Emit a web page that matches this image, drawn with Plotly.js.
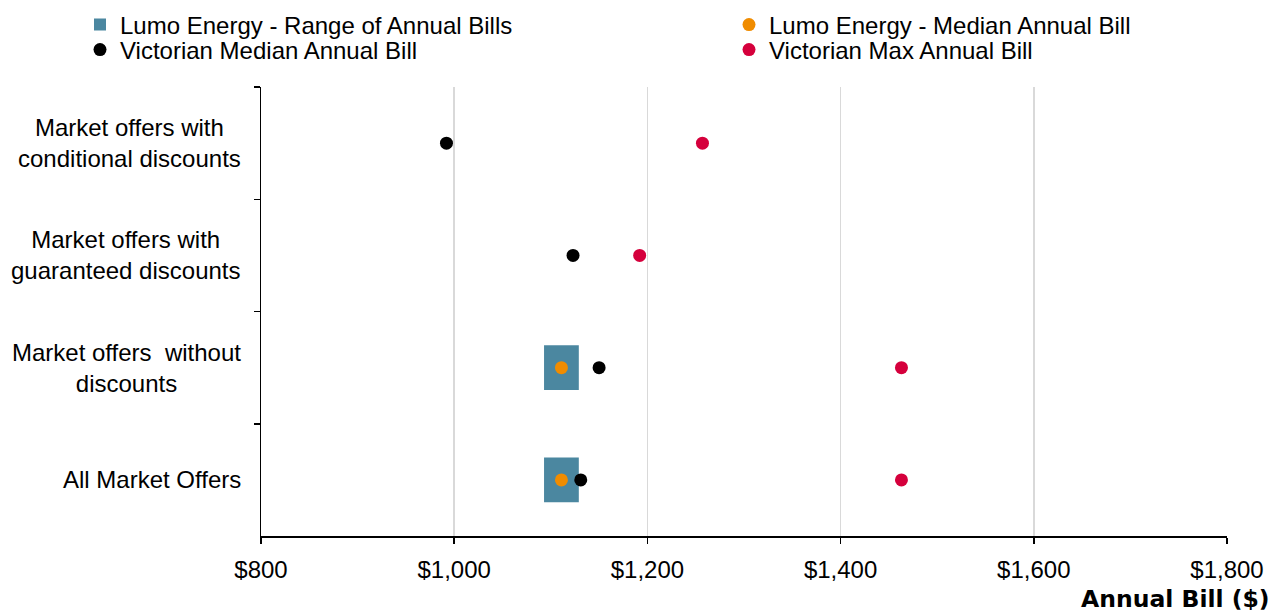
<!DOCTYPE html>
<html><head><meta charset="utf-8">
<script src="https://cdn.plot.ly/plotly-3.0.1.min.js"></script>
<style>html,body{margin:0;padding:0;background:#fff}#chart{width:1284px;height:612px}</style>
</head><body><div id="chart"></div>
<script>
const categories = ["Market offers with<br>conditional discounts", "Market offers with<br>guaranteed discounts", "Market offers  without<br>discounts", "All Market Offers"];
const seriesNames = ["Lumo Energy - Range of Annual Bills", "Lumo Energy - Median Annual Bill", "Victorian Median Annual Bill", "Victorian Max Annual Bill"];
const lumoLow = [null, null, 1093, 1093];
const lumoHigh = [null, null, 1129, 1129];
const lumoMedian = [null, null, 1111, 1111];
const vicMedian = [992, 1123, 1150, 1131];
const vicMax = [1257, 1192, 1463, 1463];
const xTickVals = [800, 1000, 1200, 1400, 1600, 1800];
const xTickLabels = ["$800", "$1,000", "$1,200", "$1,400", "$1,600", "$1,800"];
const xTitle = "Annual Bill ($)";

const FONT = "Liberation Sans, Arial, sans-serif";
const FS = 24;
const W = 1284, H = 612;
const M = {l: 261, r: 57, t: 87, b: 76};
const PW = W - M.l - M.r, PH = H - M.t - M.b;
const px2x = p => (p - M.l) / PW;
const py2y = p => (H - M.b - p) / PH;

const traces = [
  {type: 'bar', orientation: 'h', y: categories,
   x: lumoHigh.map((h, i) => (h == null || lumoLow[i] == null) ? null : h - lumoLow[i]),
   base: lumoLow, width: 0.4, name: seriesNames[0], legend: 'legend',
   marker: {color: '#4B87A0', line: {width: 0}}, hoverinfo: 'skip'},
  {type: 'scatter', mode: 'markers', y: categories, x: lumoMedian, name: seriesNames[1], legend: 'legend2',
   marker: {color: '#F08C00', size: 13}, hoverinfo: 'skip'},
  {type: 'scatter', mode: 'markers', y: categories, x: vicMedian, name: seriesNames[2], legend: 'legend3',
   marker: {color: '#000000', size: 13}, hoverinfo: 'skip'},
  {type: 'scatter', mode: 'markers', y: categories, x: vicMax, name: seriesNames[3], legend: 'legend4',
   marker: {color: '#D5003C', size: 13}, hoverinfo: 'skip'}
];

function leg(left, cy) {
  return {x: px2x(left), xanchor: 'left', y: py2y(cy), yanchor: 'middle', xref: 'paper', yref: 'paper',
          font: {family: FONT, size: FS, color: '#000'}, bgcolor: 'rgba(0,0,0,0)', borderwidth: 0};
}

const annotations = categories.map(c => ({
  text: c, x: 0, xref: 'paper', xanchor: 'right', xshift: -18, y: c, yref: 'y', yanchor: 'middle',
  align: 'center', showarrow: false, font: {family: FONT, size: FS, color: '#000'}
}));
annotations.push({text: xTitle, x: 1, xref: 'paper', xanchor: 'right', xshift: 45,
  y: 0, yref: 'paper', yanchor: 'middle', yshift: -63, showarrow: false,
  font: {family: 'DejaVu Sans, Verdana, sans-serif', size: 23.5, color: '#000', weight: 'bold'}});

const layout = {
  width: W, height: H, margin: Object.assign({autoexpand: false}, M),
  paper_bgcolor: '#fff', plot_bgcolor: '#fff', showlegend: true,
  legend: leg(80, 25), legend2: leg(729, 25), legend3: leg(80, 50), legend4: leg(729, 50),
  xaxis: {range: [800, 1800], tickmode: 'array', tickvals: xTickVals, ticktext: xTickLabels,
    showgrid: true, gridcolor: '#d9d9d9', gridwidth: 1.5, zeroline: false,
    showline: true, linecolor: '#000', linewidth: 1.5, ticks: 'outside', ticklen: 6, tickwidth: 1.5, tickcolor: '#000',
    tickfont: {family: FONT, size: FS, color: '#000'}, ticklabelstandoff: 6},
  yaxis: {type: 'category', categoryorder: 'array', categoryarray: categories, range: [3.5, -0.5],
    tickson: 'boundaries', ticks: 'outside', ticklen: 6, tickwidth: 1.5, tickcolor: '#000',
    showticklabels: false, showgrid: false, zeroline: false,
    showline: true, linecolor: '#000', linewidth: 1.5},
  annotations: annotations
};

Plotly.newPlot('chart', traces, layout, {displayModeBar: false, staticPlot: true});
</script></body></html>
